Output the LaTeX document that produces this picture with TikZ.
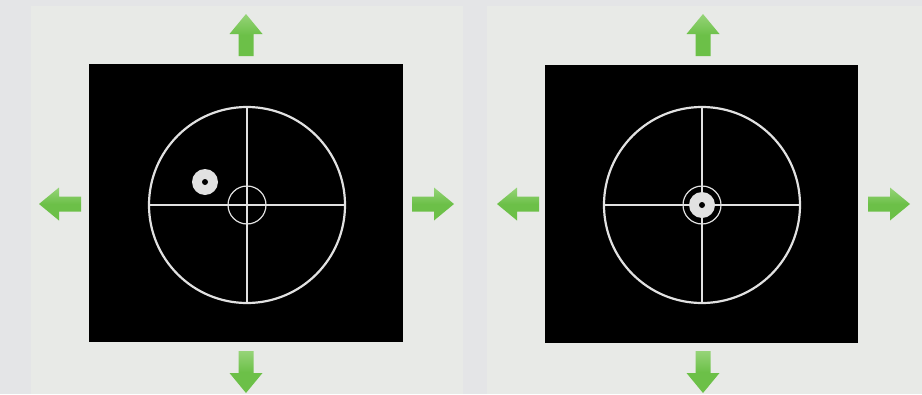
\documentclass[tikz,border=0pt]{standalone}
\usetikzlibrary{calc}
\definecolor{outerbg}{RGB}{228,229,231}
\definecolor{panelbg}{RGB}{232,234,231}
\definecolor{arrowgreen}{RGB}{108,192,72}
\definecolor{arrowlight}{RGB}{150,212,120}
\definecolor{reticle}{RGB}{225,225,225}
\tikzset{
  panel/.style={fill=panelbg,draw=none},
  screen/.style={fill=black,draw=none},
  reticleline/.style={draw=reticle,line width=2.2pt},
  thinring/.style={draw=reticle,line width=1.2pt},
  garrow/.pic={
    \shade[left color=arrowlight,right color=arrowgreen,middle color=arrowgreen,shading angle=0]
      (0,0) -- (16.5,20) -- (7.5,20) -- (7.5,42) -- (-7.5,42) -- (-7.5,20) -- (-16.5,20) -- cycle;
  }
}
\begin{document}
\begin{tikzpicture}[x=1pt,y=-1pt]
\useasboundingbox (0,0) rectangle (922,394);
\fill[outerbg] (0,0) rectangle (922,394);
% panels
\fill[panel] (31,6) rectangle (463,394);
\fill[panel] (487,6) rectangle (922,394);
% screens
\fill[screen] (89,64) rectangle (403,342);
\fill[screen] (545,65) rectangle (858,343);
% left reticle
\coordinate (cL) at (247,205);
\draw[reticleline] (cL) circle (98);
\draw[reticleline] ($(cL)+(-98,0)$) -- ($(cL)+(98,0)$);
\draw[reticleline] ($(cL)+(0,-98)$) -- ($(cL)+(0,98)$);
\draw[thinring] (cL) circle (19);
\fill[reticle] (205,182) circle (13);
\fill[black] (205,182) circle (3);
% right reticle
\coordinate (cR) at (702,205);
\draw[reticleline] (cR) circle (98);
\draw[reticleline] ($(cR)+(-98,0)$) -- ($(cR)+(98,0)$);
\draw[reticleline] ($(cR)+(0,-98)$) -- ($(cR)+(0,98)$);
\draw[thinring] (cR) circle (19);
\fill[reticle] (cR) circle (13);
\fill[black] (cR) circle (3);
% arrows left panel
\pic at (246,14) {garrow};
\pic[rotate=180] at (246,393) {garrow};
\pic[rotate=90] at (39,204) {garrow};
\pic[rotate=-90] at (454,204) {garrow};
% arrows right panel
\pic at (703,14) {garrow};
\pic[rotate=180] at (703,393) {garrow};
\pic[rotate=90] at (497,204) {garrow};
\pic[rotate=-90] at (910,204) {garrow};
\end{tikzpicture}
\end{document}
